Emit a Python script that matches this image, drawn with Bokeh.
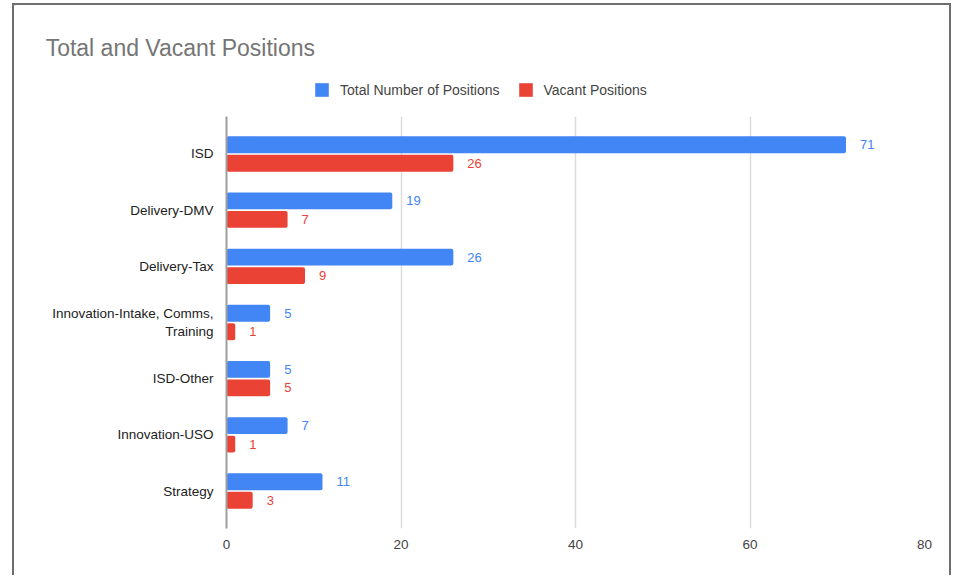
from bokeh.plotting import figure
from bokeh.models import ColumnDataSource, Range1d, FixedTicker, Legend, LegendItem, Label
from bokeh.transform import dodge
from bokeh.embed import file_html
from bokeh.resources import INLINE

categories = ["ISD", "Delivery-DMV", "Delivery-Tax", "Innovation-Intake, Comms,\nTraining",
              "ISD-Other", "Innovation-USO", "Strategy"]
total_positions = [71, 19, 26, 5, 5, 7, 11]
vacant_positions = [26, 7, 9, 1, 5, 1, 3]
x_ticks = [0, 20, 40, 60, 80]
series_names = ["Total Number of Positions", "Vacant Positions"]
title_text = "Total and Vacant Positions"

BLUE = "#4285F4"
RED = "#EA4335"
FONT = "Liberation Sans"
BORDER = "2px solid #6e6e6e"
W = 935
HEAD_H = 111

idx = list(range(len(categories)))
src = ColumnDataSource(dict(
    y=idx,
    total=total_positions,
    vacant=vacant_positions,
    total_lbl=[str(v) for v in total_positions],
    vacant_lbl=[str(v) for v in vacant_positions],
))

# ---------- header: title + legend ----------
head = figure(width=W, height=HEAD_H, output_backend="svg", toolbar_location=None,
              x_range=Range1d(0, W), y_range=Range1d(HEAD_H, 0),
              x_axis_type=None, y_axis_type=None,
              min_border_left=0, min_border_right=0, min_border_top=0, min_border_bottom=0)
head.outline_line_color = None
head.xgrid.grid_line_color = None
head.ygrid.grid_line_color = None
head.border_fill_color = "white"
head.styles = {"box-sizing": "content-box", "margin-left": "12px", "margin-top": "3px",
               "border-top": BORDER, "border-left": BORDER, "border-right": BORDER}

swatch = ColumnDataSource(dict(y=[-1000], right=[1]))
h_total = head.hbar(y='y', left=0, right='right', height=1, source=swatch,
                    fill_color=BLUE, line_color=None)
h_vac = head.hbar(y='y', left=0, right='right', height=1, source=swatch,
                  fill_color=RED, line_color=None)

legend = Legend(items=[LegendItem(label=series_names[0], renderers=[h_total]),
                       LegendItem(label=series_names[1], renderers=[h_vac])],
                orientation="horizontal", location=(299, 20),
                padding=0, margin=0, spacing=17, glyph_width=17, glyph_height=17,
                label_standoff=10, label_height=17,
                label_text_font=FONT, label_text_font_size="14px",
                label_text_color="#444444",
                border_line_color=None, background_fill_alpha=0)
head.add_layout(legend)

head.add_layout(Label(x=31, y=42, text=title_text, text_align="left",
                      text_baseline="alphabetic", text_font=FONT,
                      text_font_size="23px", text_color="#757575"))

# ---------- main chart ----------
p = figure(width=W, height=459, output_backend="svg", toolbar_location=None,
           x_range=Range1d(0, 80), y_range=Range1d(6.6676, -0.6676),
           min_border_left=212, min_border_right=29, min_border_top=0, min_border_bottom=47)
p.outline_line_color = None
p.background_fill_color = "white"
p.border_fill_color = "white"
p.styles = {"box-sizing": "content-box", "margin-left": "12px",
            "border-left": BORDER, "border-right": BORDER}

off = 0.165
hb = 0.30
p.hbar(y=dodge('y', -off), left=0, right='total', height=hb, source=src,
       fill_color=BLUE, line_color=None, border_radius=2)
p.hbar(y=dodge('y', off), left=0, right='vacant', height=hb, source=src,
       fill_color=RED, line_color=None, border_radius=2)

p.text(x='total', y=dodge('y', -off), text='total_lbl', source=src, x_offset=14,
       text_align="left", text_baseline="middle", text_color=BLUE,
       text_font_size="13px", text_font={"value": FONT})
p.text(x='vacant', y=dodge('y', off), text='vacant_lbl', source=src, x_offset=14,
       text_align="left", text_baseline="middle", text_color=RED,
       text_font_size="13px", text_font={"value": FONT})

p.xaxis.ticker = FixedTicker(ticks=x_ticks)
p.xaxis.axis_line_color = None
p.xaxis.major_tick_line_color = None
p.xaxis.minor_tick_line_color = None
p.xaxis.major_label_standoff = 5
p.xaxis.major_label_text_font = FONT
p.xaxis.major_label_text_font_size = "13.5px"
p.xaxis.major_label_text_color = "#444444"

p.yaxis.ticker = FixedTicker(ticks=idx)
p.yaxis.major_label_overrides = {i: c for i, c in zip(idx, categories)}
p.yaxis.axis_line_color = "#9e9e9e"
p.yaxis.axis_line_width = 2
p.yaxis.major_tick_line_color = None
p.yaxis.minor_tick_line_color = None
p.yaxis.major_label_standoff = 7
p.yaxis.major_label_text_font = FONT
p.yaxis.major_label_text_font_size = "13.5px"
p.yaxis.major_label_text_color = "#222222"

p.xgrid.grid_line_color = "#dcdcdc"
p.xgrid.grid_line_width = 1.5
p.xgrid.ticker = FixedTicker(ticks=x_ticks)
p.ygrid.grid_line_color = None

open("out.html", "w").write(file_html((head, p), INLINE))
